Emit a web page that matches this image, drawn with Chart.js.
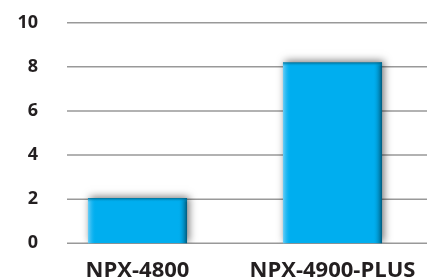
<!DOCTYPE html>
<html><head><meta charset="utf-8">
<script src="https://cdn.jsdelivr.net/npm/chart.js@4/dist/chart.umd.min.js"></script>
<style>html,body{margin:0;padding:0;background:#fff;overflow:hidden;width:427px;height:277px}#wrap{width:430px;height:277px}</style>
</head><body><div id="wrap"><canvas id="c" width="430" height="277"></canvas></div>
<script>
const categories = ["NPX-4800", "NPX-4900-PLUS"];
const values = [2.05, 8.2];
const yTicks = [0, 2, 4, 6, 8, 10];

const gridPlugin = {
  id: 'grid',
  beforeDatasetsDraw(chart) {
    const ctx = chart.ctx, y = chart.scales.y, a = chart.chartArea;
    ctx.save();
    ctx.strokeStyle = '#999999';
    ctx.lineWidth = 1.5;
    yTicks.forEach(v => {
      const py = y.getPixelForValue(v);
      ctx.beginPath(); ctx.moveTo(67, py); ctx.lineTo(a.right, py); ctx.stroke();
    });
    ctx.restore();
  }
};
const shadowPlugin = {
  id: 'shadow',
  beforeDatasetDraw(chart) {
    const ctx = chart.ctx;
    ctx.save();
    ctx.shadowColor = 'rgba(0,0,0,0.55)';
    ctx.shadowBlur = 8;
    ctx.shadowOffsetX = 2;
    ctx.shadowOffsetY = -1;
  },
  afterDatasetDraw(chart, args) {
    const ctx = chart.ctx;
    ctx.restore();
    const meta = args.meta;
    meta.data.forEach(el => {
      const l = el.x - el.width / 2, r = el.x + el.width / 2, t = el.y, b = el.base;
      let g = ctx.createLinearGradient(l, 0, l + 8, 0);
      g.addColorStop(0, 'rgba(120,210,248,0.9)');
      g.addColorStop(1, 'rgba(0,174,239,0)');
      ctx.fillStyle = g; ctx.fillRect(l, t, 8, b - t);
      g = ctx.createLinearGradient(r - 9, 0, r, 0);
      g.addColorStop(0, 'rgba(0,174,239,0)');
      g.addColorStop(1, 'rgba(0,80,110,0.9)');
      ctx.fillStyle = g; ctx.fillRect(r - 9, t, 9, b - t);
      g = ctx.createLinearGradient(0, t, 0, t + 4);
      g.addColorStop(0, 'rgba(0,90,120,0.8)');
      g.addColorStop(1, 'rgba(0,174,239,0)');
      ctx.fillStyle = g; ctx.fillRect(l, t, r - l, 4);
    });
  }
};

new Chart(document.getElementById('c'), {
  type: 'bar',
  data: { labels: categories, datasets: [{ data: values, backgroundColor: '#00aeef', borderWidth: 0, categoryPercentage: 1, barPercentage: 0.508 }] },
  options: {
    responsive: false, animation: false,
    layout: { padding: { top: 22.7, right: 0, left: 0, bottom: 0 } },
    plugins: { legend: { display: false }, tooltip: { enabled: false } },
    scales: {
      x: {
        grid: { display: false }, border: { display: false },
        ticks: { color: '#231f20', font: { family: 'Open Sans', weight: 'bold', size: 22 }, padding: 6, maxRotation: 0, autoSkip: false },
        afterFit(s) { s.height = 33.7; }
      },
      y: {
        min: 0, max: 10,
        afterBuildTicks(s) { s.ticks = yTicks.map(v => ({ value: v })); },
        grid: { display: false, drawTicks: false }, border: { display: false },
        ticks: { color: '#231f20', font: { family: 'Open Sans', weight: 'bold', size: 18 }, padding: 2 },
        afterFit(s) { s.width = 40; }
      }
    }
  },
  plugins: [gridPlugin, shadowPlugin]
});
</script></body></html>
